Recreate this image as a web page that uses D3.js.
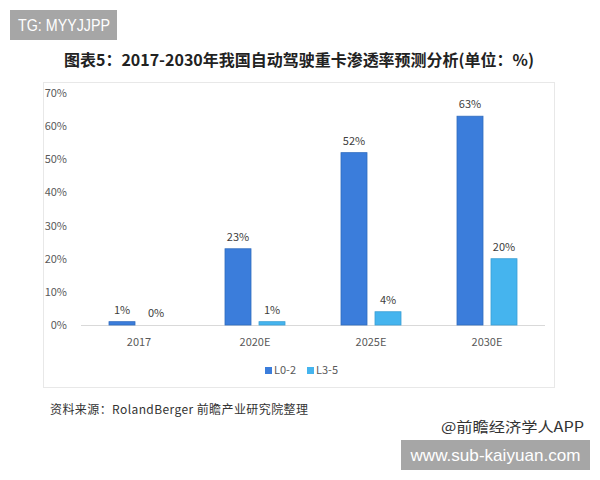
<!DOCTYPE html>
<html><head><meta charset="utf-8">
<script src="https://cdn.jsdelivr.net/npm/d3@7"></script>
<style>body{margin:0;background:#fff;}svg{display:block;}</style>
</head><body>
<svg id="c" width="600" height="480"></svg>
<script>
const categories = ["2017", "2020E", "2025E", "2030E"];
const seriesNames = ["L0-2", "L3-5"];
const seriesL02 = [1, 23, 52, 63];
const seriesL35 = [0, 1, 4, 20];
const yTicks = [0, 10, 20, 30, 40, 50, 60, 70];
const colors = ["#3b7ddb", "#45b4ee"];
const strokeColors = ["#2f6bbf", "#3a9fd4"];

const svg = d3.select("#c");
const font = "'Microsoft YaHei','Noto Sans CJK SC',sans-serif";

svg.append("rect").attr("width",600).attr("height",480).attr("fill","#fff");

// watermark box top-left
svg.append("rect").attr("x",10).attr("y",10).attr("width",107).attr("height",30).attr("fill","#a6a6a6");
svg.append("text").attr("x",18).attr("y",31).attr("fill","#fff").attr("font-family","Liberation Sans, Arial, sans-serif").attr("font-size",16)
  .attr("textLength",92).attr("lengthAdjust","spacingAndGlyphs").text("TG: MYYJJPP");

// title
svg.append("text").attr("x",299).attr("y",66).attr("text-anchor","middle").attr("font-family",font).attr("font-weight","bold").attr("font-size",16).attr("fill","#222")
  .attr("textLength",470).attr("lengthAdjust","spacingAndGlyphs")
  .text("图表5：2017-2030年我国自动驾驶重卡渗透率预测分析(单位：%)");

// chart box
svg.append("rect").attr("x",43.5).attr("y",82.5).attr("width",511).attr("height",305).attr("fill","none").attr("stroke","#e8e8e8");

const x0 = d3.scaleBand().domain(categories).range([81, 545]);
const y = d3.scaleLinear().domain([0, 70]).range([325, 93]);
const barW = 26, gap = 8;

// y axis
const yAxis = svg.append("g").attr("transform","translate(70,0)")
  .call(d3.axisLeft(y).tickValues(yTicks).tickFormat(d => d + "%").tickSize(0));
yAxis.select(".domain").remove();
yAxis.selectAll("text").attr("font-family",font).attr("font-size",11).attr("fill","#595959").attr("dx",0);

// baseline
svg.append("line").attr("x1",81).attr("x2",545).attr("y1",y(0)+0.5).attr("y2",y(0)+0.5).attr("stroke","#d9d9d9");

// x axis labels
const xAxis = svg.append("g").attr("transform",`translate(0,${y(0)})`)
  .call(d3.axisBottom(x0).tickSize(0).tickPadding(13));
xAxis.select(".domain").remove();
xAxis.selectAll("text").attr("font-family",font).attr("font-size",11).attr("fill","#595959");

const allSeries = [seriesL02, seriesL35];
allSeries.forEach((vals, si) => {
  const g = svg.append("g");
  categories.forEach((c, i) => {
    const cx = x0(c) + x0.bandwidth()/2;
    const bx = si === 0 ? cx - gap/2 - barW : cx + gap/2;
    const v = vals[i];
    if (v > 0) {
      g.append("rect").attr("x",bx).attr("y",y(v)).attr("width",barW).attr("height",y(0)-y(v))
        .attr("fill",colors[si]).attr("stroke",strokeColors[si]).attr("stroke-width",0.8);
    }
    g.append("text").attr("x",bx + barW/2).attr("y",y(v) - 8).attr("text-anchor","middle")
      .attr("font-family",font).attr("font-size",11).attr("fill","#404040").text(v + "%");
  });
});

// legend
const leg = [{x:265, name:seriesNames[0], c:colors[0]}, {x:307, name:seriesNames[1], c:colors[1]}];
leg.forEach(l => {
  svg.append("rect").attr("x",l.x).attr("y",367).attr("width",7).attr("height",7).attr("fill",l.c);
  svg.append("text").attr("x",l.x+9).attr("y",374).attr("font-family",font).attr("font-size",11).attr("fill","#595959").text(l.name);
});

// source
svg.append("text").attr("x",50).attr("y",414).attr("font-family",font).attr("font-size",12).attr("fill","#333")
  .attr("textLength",258).attr("lengthAdjust","spacing").text("资料来源：RolandBerger 前瞻产业研究院整理");
svg.append("text").attr("x",441).attr("y",432).attr("font-family",font).attr("font-size",14).attr("fill","#333")
  .attr("textLength",143).attr("lengthAdjust","spacingAndGlyphs").text("@前瞻经济学人APP");

// bottom-right box
svg.append("rect").attr("x",401).attr("y",440).attr("width",189).attr("height",30).attr("fill","#a6a6a6");
svg.append("text").attr("x",495.5).attr("y",461).attr("text-anchor","middle").attr("fill","#fff").attr("font-family","Liberation Sans, Arial, sans-serif").attr("font-size",17)
  .attr("textLength",170).attr("lengthAdjust","spacingAndGlyphs").text("www.sub-kaiyuan.com");
</script>
</body></html>
